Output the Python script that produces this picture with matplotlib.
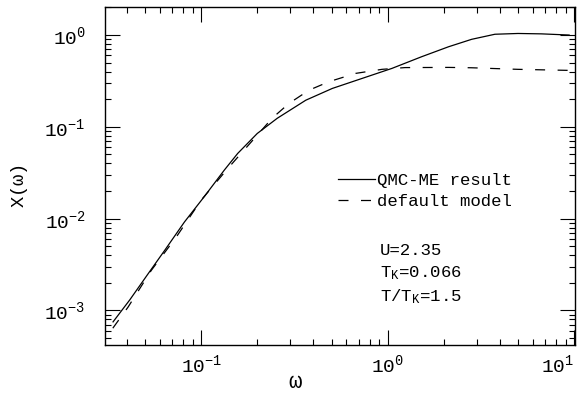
#!/usr/bin/env python3

import matplotlib
matplotlib.use("Agg")
import matplotlib.pyplot as plt

# values (log-log)
omega_qmc = [0.0337, 0.0414, 0.0519, 0.0637, 0.0814, 0.104, 0.133, 0.157,
             0.200, 0.256, 0.364, 0.505, 0.730, 1.054, 1.52, 2.12, 2.82,
             3.76, 5.0, 6.67, 9.4]
chi_qmc = [7.5e-4, 1.3e-3, 2.5e-3, 4.5e-3, 9.2e-3, 0.0174, 0.0337, 0.0513,
           0.0847, 0.124, 0.195, 0.262, 0.337, 0.433, 0.580, 0.745, 0.898,
           1.02, 1.04, 1.03, 1.0]

omega_def = [0.0336, 0.0406, 0.0541, 0.0736, 0.1, 0.139, 0.2, 0.241, 0.296,
             0.379, 0.484, 0.673, 0.933, 1.24, 2.12, 2.82, 5.0, 9.4]
chi_def = [6.4e-4, 1.09e-3, 2.74e-3, 6.31e-3, 0.0159, 0.0352, 0.0812, 0.125,
           0.180, 0.251, 0.310, 0.382, 0.423, 0.442, 0.444, 0.440, 0.423, 0.412]

labels = ["QMC-ME result", "default model"]
params = ["U=2.35", r"T$_\mathrm{K}$=0.066", r"T/T$_\mathrm{K}$=1.5"]


def plot(fileName):
    plt.rcParams['font.family'] = ['Liberation Mono', 'DejaVu Sans']
    plt.rcParams['mathtext.fontset'] = 'custom'
    plt.rcParams['mathtext.rm'] = 'Liberation Mono'
    plt.rcParams['mathtext.it'] = 'Liberation Mono'

    fig = plt.figure(figsize=(5.79, 3.96), dpi=100)
    ax = fig.add_axes([0.1813, 0.1288, 0.8117, 0.8535])

    ax.plot(omega_qmc, chi_qmc, color='black', lw=0.9, label=labels[0])
    ax.plot(omega_def, chi_def, color='black', lw=0.9, dashes=(8, 10),
            label=labels[1])

    ax.set_xscale('log')
    ax.set_yscale('log')
    ax.set_xlim(0.0305, 10.1)
    ax.set_ylim(4.2e-4, 2.02)

    ax.tick_params(which='both', direction='in', top=True, right=True,
                   labelsize=14, width=0.8)
    ax.tick_params(which='major', length=10.5)
    ax.tick_params(which='minor', length=4)
    ax.tick_params(axis='y', pad=14)
    ax.tick_params(axis='x', pad=6)
    for s in ax.spines.values():
        s.set_linewidth(1.0)

    fig.canvas.draw()
    xl = ax.get_xticklabels()
    for lab in xl:
        if '{1}' in lab.get_text():
            lab.set_horizontalalignment('right')
    ax.set_xticks(ax.get_xticks())
    ax.set_xticklabels(xl)
    ax.set_xlim(0.0305, 10.1)

    ax.set_xlabel(r'$\omega$', fontsize=16)
    ax.xaxis.set_label_coords(0.405, -0.08)
    ax.set_ylabel(r'X($\omega$)', fontsize=13.5)
    ax.yaxis.set_label_coords(-0.16, 0.47)

    ax.legend(loc='center left', bbox_to_anchor=(0.496, 0.456),
              frameon=False, fontsize=12.5, handlelength=2.1,
              handletextpad=0.15, labelspacing=0.35, borderpad=0,
              borderaxespad=0)

    ys = [0.281, 0.213, 0.142]
    for t, y in zip(params, ys):
        ax.text(0.585, y, t, transform=ax.transAxes, fontsize=12.5,
                va='center', ha='left')

    plt.savefig(fileName, dpi=100)


if __name__ == '__main__':
    plot("out.png")
